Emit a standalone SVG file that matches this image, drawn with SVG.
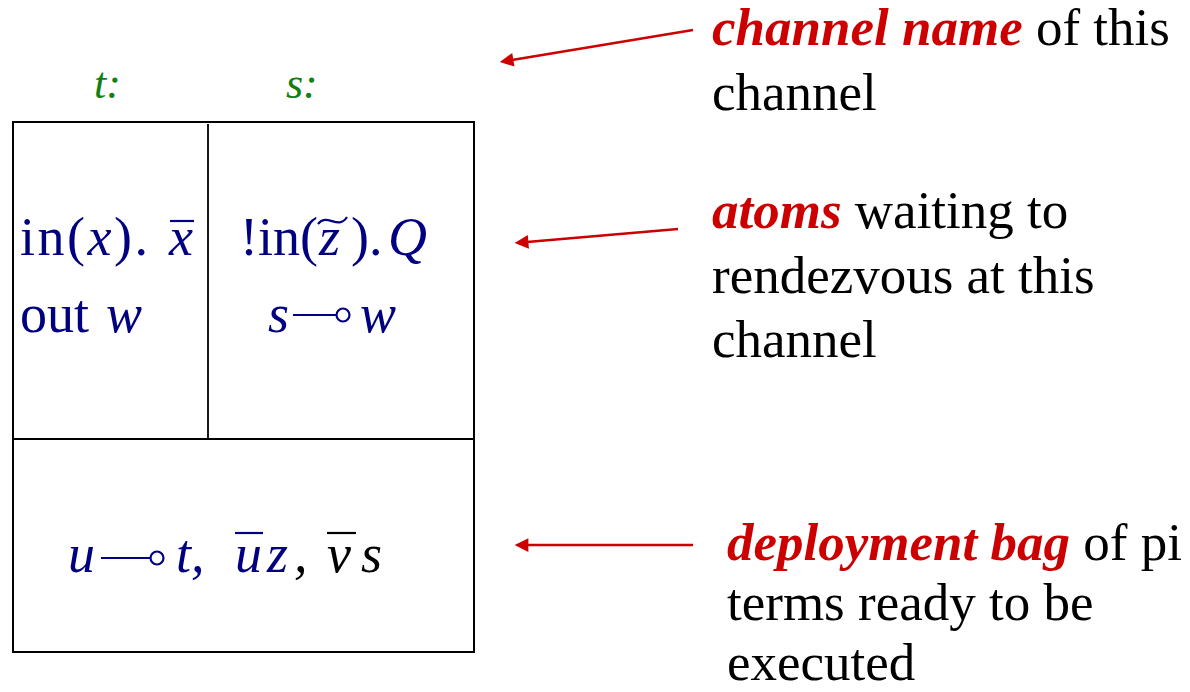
<svg xmlns="http://www.w3.org/2000/svg" width="1190" height="692" viewBox="0 0 1190 692">
<style>
text{font-family:"Liberation Serif","Times New Roman",Tinos,"DejaVu Serif","Noto Serif",serif}
.m{font-size:54px;fill:#000080}
.i{font-style:italic}
.k{fill:#000}
.g{font-size:44px;font-style:italic;fill:#108010}
.d{font-size:53px;fill:#000}
.r{font-weight:bold;font-style:italic;fill:#cc0000}
.ln{stroke:#000080;stroke-width:2.2;fill:none}
.lk{stroke:#000;stroke-width:2.2;fill:none}
.ar{stroke:#cc0000;stroke-width:2.5;fill:none}
</style>
<defs>
<marker id="ah" viewBox="0 0 10 10" refX="1" refY="5" markerWidth="7" markerHeight="5.5" orient="auto-start-reverse" markerUnits="strokeWidth">
<path d="M0,0 L10,5 L0,10 z" fill="#cc0000"/>
</marker>
</defs>
<rect width="1190" height="692" fill="#fff"/>
<g id="channel">
<rect x="13" y="122" width="461" height="530" fill="none" stroke="#000" stroke-width="2"/>
<line x1="13" y1="439" x2="474" y2="439" stroke="#000" stroke-width="1.8"/>
<line x1="208" y1="124" x2="208" y2="439" stroke="#000" stroke-width="1.8"/>
</g>
<g id="name-t"><text class="g" x="94" y="98">t:</text></g>
<g id="name-s"><text class="g" x="286" y="98">s:</text></g>
<g id="atoms-t">
<text class="m" x="20" y="255" textLength="128" lengthAdjust="spacing">in(<tspan class="i">x</tspan>).</text>
<text class="m i" x="169" y="255">x</text>
<line class="ln" x1="170" y1="221" x2="194" y2="221"/>
<text class="m" x="20" y="332">out</text>
<text class="m i" x="106" y="332">w</text>
</g>
<g id="atoms-s">
<text class="m" x="240" y="255">!in(</text>
<text class="m i" x="319" y="255">z</text>
<path class="ln" d="M318,224 C327,212 338,231 347,217"/>
<text class="m" x="351" y="255">).</text>
<text class="m i" x="388" y="255">Q</text>
<text class="m i" x="268" y="332">s</text>
<line class="ln" x1="293" y1="315" x2="336" y2="315"/>
<circle class="ln" cx="343" cy="315" r="6.5"/>
<text class="m i" x="360" y="332">w</text>
</g>
<g id="bag">
<text class="m i" x="68" y="572">u</text>
<line class="ln" x1="101" y1="558" x2="150" y2="558"/>
<circle class="ln" cx="157" cy="558" r="6.5"/>
<text class="m i" x="176" y="572">t,</text>
<text class="m i" x="235" y="572">u</text>
<text class="m i" x="267" y="572">z</text>
<text class="m i k" x="294" y="572">,</text>
<line class="ln" x1="235" y1="533" x2="263" y2="533"/>
<line class="lk" x1="327" y1="533" x2="356" y2="533"/>
<text class="m i k" x="327" y="572">v</text>
<text class="m i k" x="361" y="572">s</text>
</g>
<g id="connectors">
<line class="ar" x1="693" y1="30" x2="512" y2="60" marker-end="url(#ah)"/>
<line class="ar" x1="678" y1="229" x2="527" y2="242" marker-end="url(#ah)"/>
<line class="ar" x1="693" y1="545" x2="527" y2="545" marker-end="url(#ah)"/>
</g>
<g id="note-name">
<text class="d" x="712" y="45"><tspan class="r">channel name</tspan> of this</text>
<text class="d" x="712" y="110">channel</text>
</g>
<g id="note-atoms">
<text class="d" x="712" y="228"><tspan class="r">atoms</tspan> waiting to</text>
<text class="d" x="712" y="293">rendezvous at this</text>
<text class="d" x="712" y="357">channel</text>
</g>
<g id="note-bag">
<text class="d" x="727" y="560"><tspan class="r">deployment bag</tspan> of pi</text>
<text class="d" x="727" y="620">terms ready to be</text>
<text class="d" x="727" y="680">executed</text>
</g>
</svg>
